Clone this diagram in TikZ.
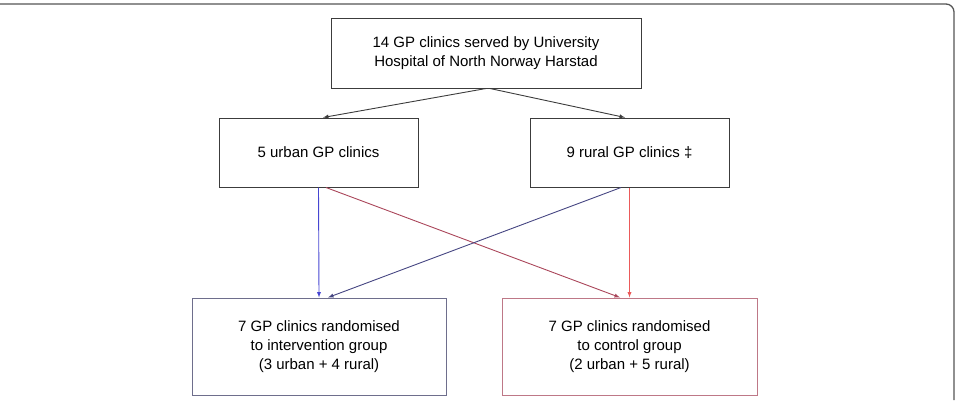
\documentclass[tikz,border=0pt]{standalone}
\usepackage{fontspec}
\setmainfont{Liberation Sans}
\usepackage{tikz}
\definecolor{framegray}{RGB}{85,85,85}
\definecolor{boxgray}{RGB}{60,60,60}
\definecolor{intblue}{RGB}{70,70,210}
\definecolor{navy}{RGB}{70,70,130}
\definecolor{darkred}{RGB}{170,70,90}
\definecolor{ctrlred}{RGB}{235,90,90}
\definecolor{intframe}{RGB}{110,110,140}
\definecolor{ctrlframe}{RGB}{190,120,135}
\usetikzlibrary{arrows, shapes}

\begin{document}
\begin{tikzpicture}[box/.style={draw=boxgray, line width=1pt, inner sep=0pt, align=center, minimum height=#1}, x=1pt, y=-1pt,
			>=latex,   %arrow tips
			font=\fontsize{15}{19}\selectfont]
			\useasboundingbox (0,0) rectangle (957,400);
			%outer frame
			\draw[framegray, line width=1.3pt, rounded corners=8pt] (0,4) -| (954,400);
			%boxes
			\node[box=70, minimum width=310] (clinics) at (486,53) {14 GP clinics served by University\\Hospital of North Norway Harstad};
			\node[box=69, minimum width=199] (urban) at (318.5,152.5) {5 urban GP clinics};
			\node[box=69, minimum width=199] (rural) at (629.5,152.5) {9 rural GP clinics ‡};
			\node[box=97, minimum width=254, draw=intframe] (interv) at (319,346.5) {7 GP clinics randomised\\to intervention group\\(3 urban + 4 rural)};
			\node[box=97, minimum width=255, draw=ctrlframe] (control) at (629.5,346.5) {7 GP clinics randomised\\to control group\\(2 urban + 5 rural)};
			%arrows
			\draw[->, boxgray, line width=0.9pt] (clinics.south) -- ([xshift=4.5pt]urban.north);
			\draw[->, boxgray, line width=0.9pt] ([xshift=4pt]clinics.south) -- ([xshift=-4.5pt]rural.north);
			\draw[->, intblue, line width=0.9pt] (urban.south) -- (interv.north);
			\draw[->, darkred, line width=0.9pt] ([xshift=7.5pt]urban.south) -- ([xshift=-9.5pt]control.north);
			\draw[->, navy, line width=0.9pt] ([xshift=-8.5pt]rural.south) -- ([xshift=9pt]interv.north);
			\draw[->, ctrlred, line width=0.9pt] (rural.south) -- (control.north);
		\end{tikzpicture}
\end{document}
